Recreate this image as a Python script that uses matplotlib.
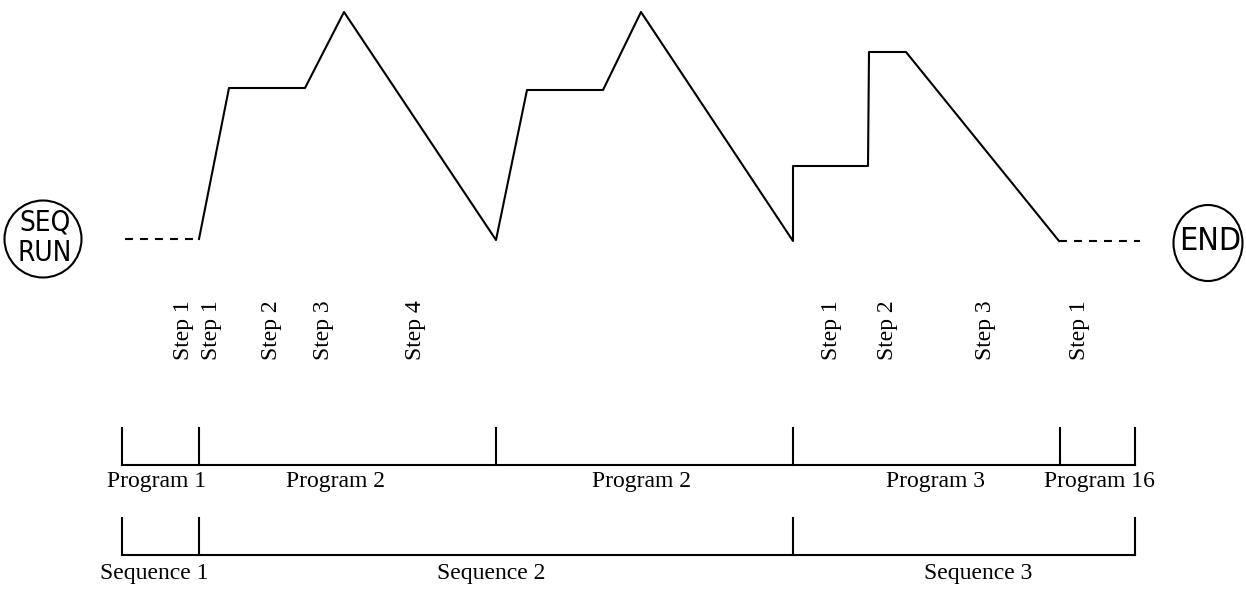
import matplotlib
matplotlib.use('Agg')
import matplotlib.pyplot as plt
from matplotlib import font_manager
from matplotlib.patches import Ellipse

# profile (x in time units, y in level units; both drawn on a pixel-like scale)
lead_in_x = [125, 199]
lead_in_y = [239, 239]
profile_x = [199, 229, 305, 344, 496, 527, 603, 641, 793, 793, 868, 869, 906, 1059]
profile_y = [239, 88, 88, 12, 240, 90, 90, 12, 241, 166, 166, 52, 52, 241]
lead_out_x = [1059, 1140]
lead_out_y = [241, 241]

step_labels = ['Step 1', 'Step 1', 'Step 2', 'Step 3', 'Step 4',
               'Step 1', 'Step 2', 'Step 3', 'Step 1']
step_pos = [184, 212, 271, 324, 416, 832, 887, 985, 1079]

program_ticks = [122, 199, 496, 793, 1060, 1135]
program_labels = ['Program 1', 'Program 2', 'Program 2', 'Program 3', 'Program 16']
program_label_pos = [157, 336, 642, 935, 1099]

sequence_ticks = [122, 199, 793, 1135]
sequence_labels = ['Sequence 1', 'Sequence 2', 'Sequence 3']
sequence_label_pos = [154, 491, 978]

serif = 'Liberation Serif'


def narrow_sans():
    # look for an upright condensed sans face, the markers use one
    best = None
    for f in font_manager.fontManager.ttflist:
        n = f.name
        narrow = 'Narrow' in n or 'Condensed' in n or 'condensed' in str(f.stretch)
        if not narrow or 'Mono' in n or 'Serif' in n or f.style != 'normal':
            continue
        w = f.weight if isinstance(f.weight, int) else 400
        score = abs(w - 400)
        if best is None or score < best[0]:
            best = (score, f.fname)
    return best[1] if best else None


narrow_file = narrow_sans()
if narrow_file:
    sans_prop = font_manager.FontProperties(fname=narrow_file)
    seq_size, end_size = 20, 23
else:
    sans_prop = font_manager.FontProperties(family='Liberation Sans')
    seq_size, end_size = 17, 19

fig = plt.figure(figsize=(12.46, 5.95), dpi=100)
ax = fig.add_axes([0, 0, 1, 1])
ax.set_xlim(0, 1246)
ax.set_ylim(595, 0)
ax.axis('off')

lw = 1.5
ax.plot(lead_in_x, lead_in_y, color='black', lw=lw, dashes=[3.8, 3.4])
ax.plot(profile_x, profile_y, color='black', lw=lw)
ax.plot(lead_out_x, lead_out_y, color='black', lw=lw, dashes=[3.8, 3.4])

# start / end markers
ax.add_patch(Ellipse((43, 239), 77, 77, fill=False, lw=lw, color='black'))
ax.text(45, 222, 'SEQ', ha='center', va='center', fontsize=seq_size, fontproperties=sans_prop)
ax.text(45, 253, 'RUN', ha='center', va='center', fontsize=seq_size, fontproperties=sans_prop)
ax.add_patch(Ellipse((1208, 243), 69, 76, fill=False, lw=lw, color='black'))
ax.text(1210, 242, 'END', ha='center', va='center', fontsize=end_size, fontproperties=sans_prop)

for lab, x in zip(step_labels, step_pos):
    ax.text(x, 360, lab, rotation=90, ha='center', va='bottom',
            fontsize=17, family=serif)

# program bar
ax.plot([program_ticks[0], program_ticks[-1]], [465, 465], color='black', lw=lw)
for x in program_ticks:
    ax.plot([x, x], [428, 465], color='black', lw=lw)
for lab, x in zip(program_labels, program_label_pos):
    ax.text(x, 487, lab, ha='center', va='baseline', fontsize=17, family=serif)

# sequence bar
ax.plot([sequence_ticks[0], sequence_ticks[-1]], [555, 555], color='black', lw=lw)
for x in sequence_ticks:
    ax.plot([x, x], [518, 555], color='black', lw=lw)
for lab, x in zip(sequence_labels, sequence_label_pos):
    ax.text(x, 579, lab, ha='center', va='baseline', fontsize=17, family=serif)

fig.savefig('out.png', dpi=100)
